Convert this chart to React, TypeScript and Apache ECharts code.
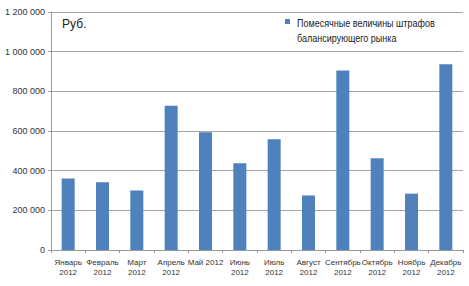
import React, { useEffect, useRef } from "react";
import * as echarts from "echarts";

const categories = [
  "Январь\n2012", "Февраль\n2012", "Март\n2012", "Апрель\n2012", "Май 2012", "Июнь\n2012",
  "Июль\n2012", "Август\n2012", "Сентябрь\n2012", "Октябрь\n2012", "Ноябрь\n2012", "Декабрь\n2012",
];
const values = [360000, 342000, 300000, 727000, 594000, 438000, 559000, 275000, 905000, 463000, 284000, 937000];
const seriesName = "Помесячные величины штрафов\nбалансирующего рынка";
const unitLabel = "Руб.";

const FONT = "'Liberation Sans', Arial, sans-serif";

export default function App() {
  const ref = useRef<HTMLDivElement>(null);
  useEffect(() => {
    if (!ref.current) return;
    const chart = echarts.init(ref.current, undefined, { renderer: "svg" });
    chart.setOption({
      animation: false,
      backgroundColor: "#ffffff",
      textStyle: { fontFamily: FONT },
      grid: { left: 51, right: 6, top: 12, bottom: 36, containLabel: false },
      xAxis: {
        type: "category",
        data: categories,
        axisLine: { show: true, lineStyle: { color: "#9a9a9a", width: 1 } },
        axisTick: { show: true, length: 3, alignWithLabel: false, lineStyle: { color: "#9a9a9a" } },
        axisLabel: {
          interval: 0,
          fontSize: 8,
          color: "#333333",
          fontFamily: FONT,
          lineHeight: 10,
          margin: 7,
        },
      },
      yAxis: {
        type: "value",
        min: 0,
        max: 1200000,
        interval: 200000,
        axisLine: { show: true, lineStyle: { color: "#9a9a9a", width: 1 } },
        axisTick: { show: true, length: 3, lineStyle: { color: "#9a9a9a" } },
        splitLine: { show: true, lineStyle: { color: "#a6a6a6", width: 1 } },
        axisLabel: {
          fontSize: 9,
          color: "#333333",
          fontFamily: FONT,
          margin: 6,
          formatter: (v: number) => String(Math.round(v)).replace(/\B(?=(\d{3})+(?!\d))/g, " "),
        },
      },
      series: [
        {
          name: seriesName,
          type: "bar",
          data: values,
          barWidth: 13,
          itemStyle: { color: "#4f81bd" },
        },
      ],
      graphic: [
        {
          type: "text",
          x: 62,
          y: 18,
          style: { text: unitLabel, fontSize: 12, fill: "#222222", fontFamily: FONT },
        },
        {
          type: "rect",
          shape: { x: 285, y: 19, width: 5, height: 5 },
          style: { fill: "#4f81bd" },
        },
        {
          type: "text",
          x: 297,
          y: 16,
          scaleX: 0.82,
          style: {
            text: seriesName,
            fontSize: 11,
            lineHeight: 15,
            fill: "#222222",
            fontFamily: FONT,
          },
        },
      ],
    });
    return () => chart.dispose();
  }, []);
  return <div ref={ref} style={{ width: 469, height: 286, position: "fixed", left: 0, top: 0 }} />;
}
